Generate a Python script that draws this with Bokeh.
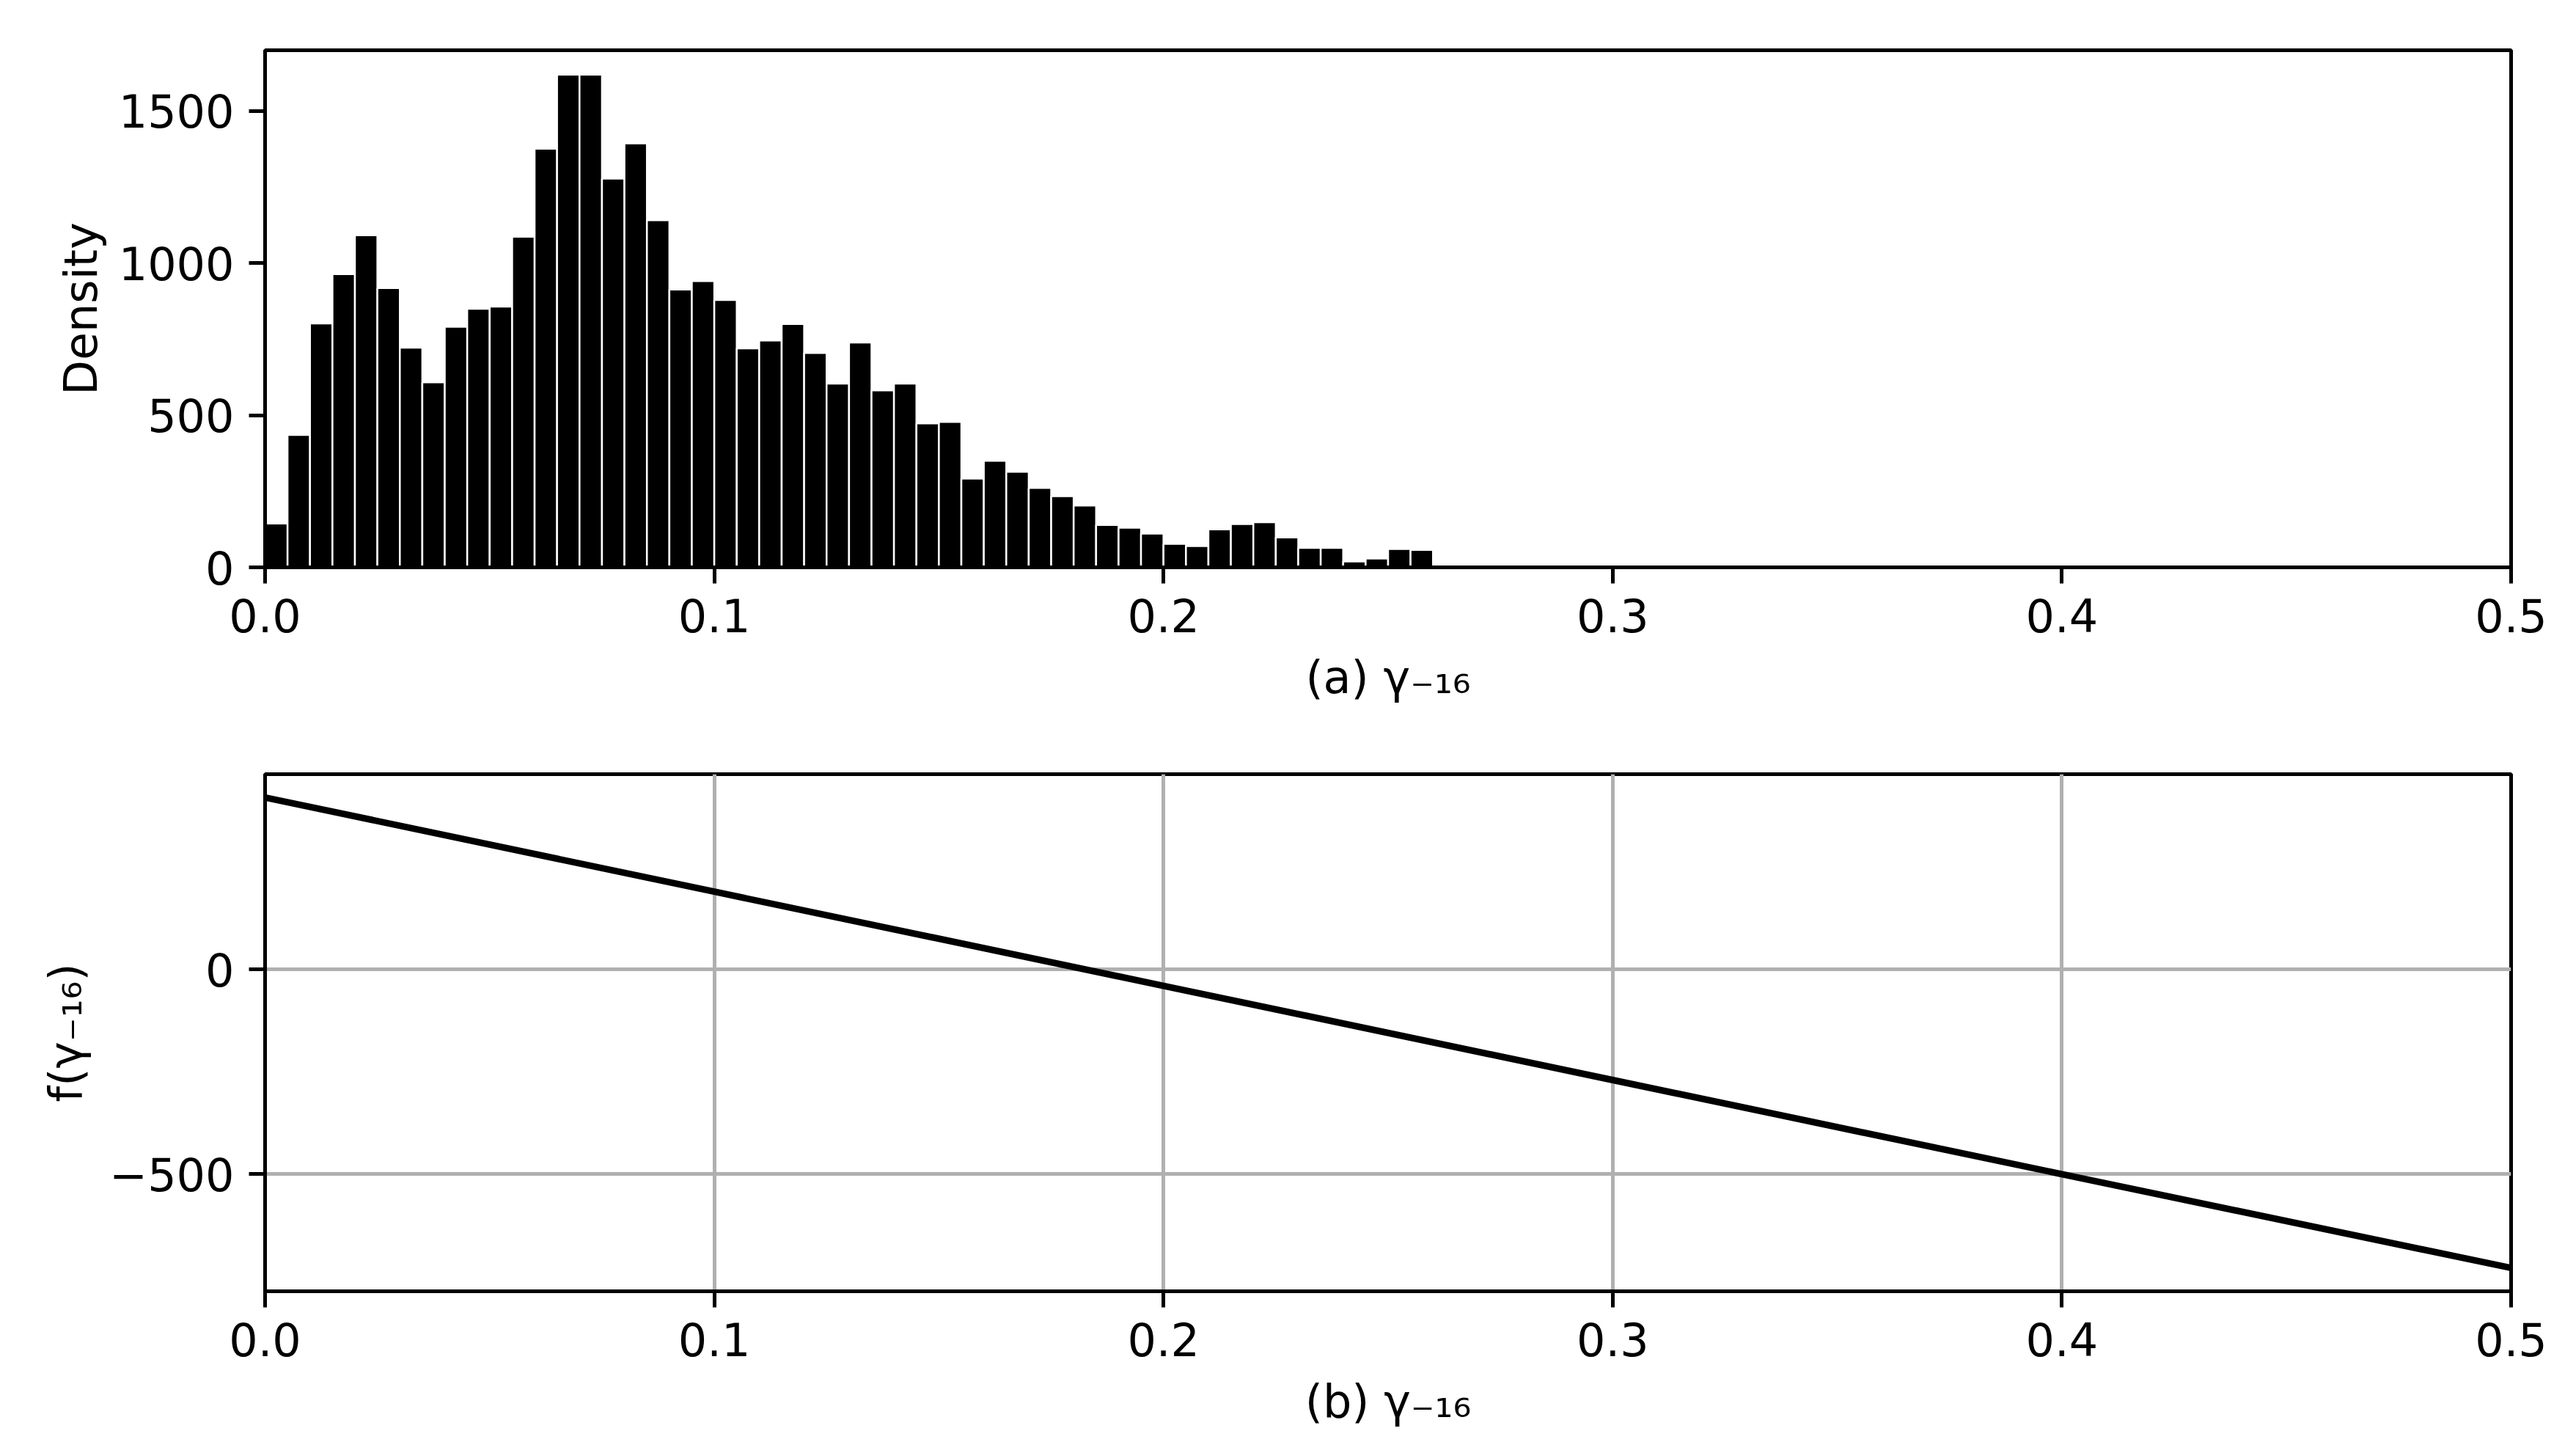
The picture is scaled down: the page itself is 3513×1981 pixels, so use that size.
from bokeh.plotting import figure
from bokeh.layouts import column
from bokeh.models import FixedTicker, Range1d, ColumnDataSource, PrintfTickFormatter
from bokeh.embed import file_html
from bokeh.resources import INLINE

# ---- data ----
bin_width = 0.005
density = [144, 435, 802, 964, 1092, 918, 722, 608, 791, 850,
           857, 1087, 1376, 1620, 1620, 1278, 1394, 1141, 913, 941,
           879, 720, 746, 800, 705, 604, 739, 582, 604, 473,
           478, 292, 350, 314, 261, 234, 203, 139, 130, 111,
           77, 70, 125, 142, 148, 98, 64, 64, 19, 29,
           60, 57, 9]
gamma_pts = [0.0, 0.1, 0.2, 0.3, 0.4, 0.5]
f_vals = [420, 190, -40, -270, -500, -729]
x_ticks = [0.0, 0.1, 0.2, 0.3, 0.4, 0.5]
hist_y_ticks = [0, 500, 1000, 1500]
f_y_ticks = [-500, 0]
f_y_tick_labels = {-500: "\u2212500", 0: "0"}

FONT = "DejaVu Sans"
FS = "62px"
LW = 5


def style(p):
    p.outline_line_color = "black"
    p.outline_line_width = LW
    p.outline_line_alpha = 1
    p.background_fill_color = "white"
    p.border_fill_color = "white"
    for ax in (p.xaxis[0], p.yaxis[0]):
        ax.axis_line_width = LW
        ax.axis_line_color = "black"
        ax.major_tick_line_width = LW
        ax.major_tick_line_color = "black"
        ax.major_tick_in = 0
        ax.major_tick_out = 22
        ax.minor_tick_in = 0
        ax.minor_tick_out = 0
        ax.major_label_standoff = 20
        ax.major_label_text_font = FONT
        ax.major_label_text_font_size = FS
        ax.major_label_text_color = "black"
        ax.axis_label_text_font = FONT
        ax.axis_label_text_font_size = FS
        ax.axis_label_text_font_style = "normal"
        ax.axis_label_text_color = "black"
    p.xaxis.ticker = FixedTicker(ticks=x_ticks)
    p.xaxis.formatter = PrintfTickFormatter(format="%.1f")


# ---- top: histogram ----
left = [i * bin_width for i in range(len(density))]
right = [(i + 1) * bin_width for i in range(len(density))]
src = ColumnDataSource(dict(left=left, right=right, top=density))

p1 = figure(width=3505, height=990, output_backend="svg", toolbar_location=None,
            x_range=Range1d(0, 0.5), y_range=Range1d(0, 1700),
            min_border_left=361, min_border_right=81, min_border_top=68, min_border_bottom=217)
p1.quad(left="left", right="right", bottom=0, top="top", source=src,
        fill_color="black", line_color="white", line_width=2.5)
style(p1)
p1.xgrid.visible = False
p1.ygrid.visible = False
p1.yaxis.ticker = FixedTicker(ticks=hist_y_ticks)
p1.yaxis.axis_label = "Density"
p1.yaxis.axis_label_standoff = 12
p1.xaxis.axis_label = "(a) \u03b3\u208b\u2081\u2086"
p1.xaxis.axis_label_standoff = 22

# ---- bottom: f(gamma) ----
p2 = figure(width=3505, height=975, output_backend="svg", toolbar_location=None,
            x_range=Range1d(0, 0.5), y_range=Range1d(-786, 477),
            min_border_left=361, min_border_right=81, min_border_top=65, min_border_bottom=205)
p2.line(gamma_pts, f_vals, line_color="black", line_width=9)
style(p2)
for g in (p2.xgrid[0], p2.ygrid[0]):
    g.grid_line_color = "#b0b0b0"
    g.grid_line_width = LW
p2.ygrid.ticker = FixedTicker(ticks=f_y_ticks)
p2.xgrid.ticker = FixedTicker(ticks=x_ticks)
p2.yaxis.ticker = FixedTicker(ticks=f_y_ticks)
p2.yaxis.major_label_overrides = f_y_tick_labels
p2.yaxis.axis_label = "f(\u03b3\u208b\u2081\u2086)"
p2.yaxis.axis_label_standoff = 20
p2.xaxis.axis_label = "(b) \u03b3\u208b\u2081\u2086"
p2.xaxis.axis_label_standoff = 22

layout = column(p1, p2, spacing=0)
open("out.html", "w").write(file_html(layout, INLINE))
